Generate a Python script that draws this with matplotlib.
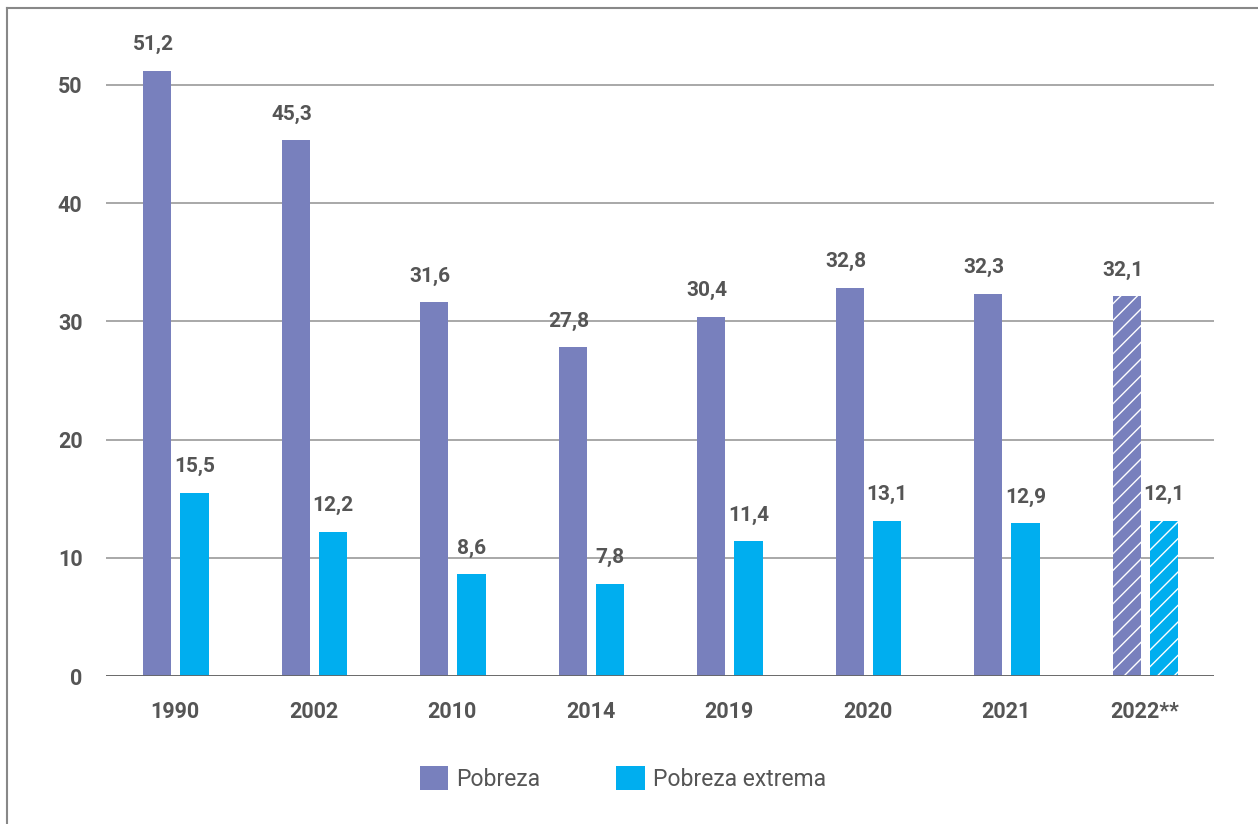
import numpy as np
import matplotlib.pyplot as plt
from matplotlib.lines import Line2D
from matplotlib.patches import Patch

plt.rcParams['font.family'] = ['Roboto', 'DejaVu Sans']
plt.rcParams['hatch.linewidth'] = 1.0

# Data
years = ["1990", "2002", "2010", "2014", "2019", "2020", "2021", "2022**"]
pobreza = [51.2, 45.3, 31.6, 27.8, 30.4, 32.8, 32.3, 32.1]
# the 2022 bar in the source is drawn at ~13.1 although it is labelled 12,1
extrema_bar = [15.5, 12.2, 8.6, 7.8, 11.4, 13.1, 12.9, 13.1]
extrema_lbl = [15.5, 12.2, 8.6, 7.8, 11.4, 13.1, 12.9, 12.1]
hatched = [False] * 7 + [True]

purple = "#7880bd"
cyan = "#00aeef"
text_col = "#555555"

fig = plt.figure(figsize=(12.58, 8.24), dpi=100)
ax = fig.add_axes([0.0843, 0.1796, 0.8807, 0.7534])

x = np.arange(len(years))
w = 0.205
b1 = ax.bar(x - 0.13, pobreza, w, color=purple, zorder=3)
b2 = ax.bar(x + 0.14, extrema_bar, w, color=cyan, zorder=3)

for bars in (b1, b2):
    for rect, h in zip(bars, hatched):
        if h:
            rect.set_hatch('//')
            rect.set_edgecolor('white')
            rect.set_linewidth(0)


def fmt(v):
    return f"{v:.1f}".replace(".", ",")


for rect, v in zip(b1, pobreza):
    ax.annotate(fmt(v), (rect.get_x() + rect.get_width() / 2 - 0.03, rect.get_height()),
                xytext=(0, 12), textcoords="offset points", ha="center", va="bottom",
                fontsize=15, fontweight="bold", color=text_col)
for rect, v in zip(b2, extrema_lbl):
    ax.annotate(fmt(v), (rect.get_x() + rect.get_width() / 2, rect.get_height()),
                xytext=(0, 12), textcoords="offset points", ha="center", va="bottom",
                fontsize=15, fontweight="bold", color=text_col)

ax.set_xlim(-0.5, len(years) - 0.5)
ax.set_ylim(0, 52.5)
ax.set_yticks([0, 10, 20, 30, 40, 50])
ax.set_xticks(x)
ax.set_xticklabels(years)
ax.tick_params(axis="both", length=0, labelsize=15.5, labelcolor=text_col)
ax.tick_params(axis="x", pad=18)
ax.tick_params(axis="y", pad=17)
for lab in ax.get_xticklabels() + ax.get_yticklabels():
    lab.set_fontweight("bold")

for s in ax.spines.values():
    s.set_visible(False)
ax.yaxis.grid(True, color="#999999", linewidth=1.2, zorder=0)
ax.axhline(0, color="#666666", linewidth=2, zorder=4)

handles = [Patch(facecolor=purple, label="Pobreza"),
           Patch(facecolor=cyan, label="Pobreza extrema")]
leg = fig.legend(handles=handles, loc="center", bbox_to_anchor=(0.495, 0.055), ncol=2,
                 frameon=False, fontsize=16.5, handlelength=1.25, handleheight=1.2,
                 handletextpad=0.35, columnspacing=3.3)
for t in leg.get_texts():
    t.set_color(text_col)

# frame lines of the original panel
fig.add_artist(Line2D([7 / 1258, 1], [1 - 8 / 824, 1 - 8 / 824], color="#888888", linewidth=1.5,
                      transform=fig.transFigure))
fig.add_artist(Line2D([7 / 1258, 7 / 1258], [0, 1 - 8 / 824], color="#888888", linewidth=1.5,
                      transform=fig.transFigure))

fig.savefig("out.png", dpi=100)
